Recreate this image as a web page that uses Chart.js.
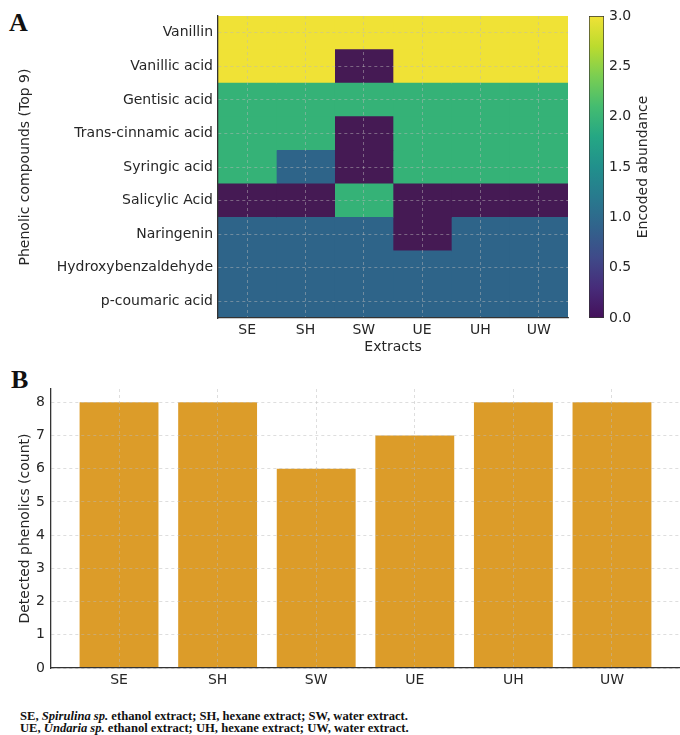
<!DOCTYPE html>
<html>
<head>
<meta charset="utf-8">
<script src="https://cdn.jsdelivr.net/npm/chart.js@4.4.1/dist/chart.umd.min.js"></script>
<style>
  body { margin: 0; background: #fff; width: 680px; height: 735px; position: relative; overflow: hidden; }
  canvas { position: absolute; }
  .panel { position: absolute; font: bold 26px 'Liberation Serif', serif; line-height: 26px; color: #111; }
  .note { position: absolute; left: 20px; top: 710px; font: bold 12.6px 'Liberation Serif', serif; line-height: 12px; color: #111; white-space: nowrap; }
</style>
</head>
<body>
<div class="panel" style="left:9px;top:10px">A</div>
<div class="panel" style="left:11px;top:367px">B</div>
<canvas id="heat" width="580" height="360" style="left:0;top:0"></canvas>
<canvas id="cbar" width="100" height="360" style="left:580px;top:0"></canvas>
<canvas id="bars" width="680" height="340" style="left:0;top:360px"></canvas>
<div class="note">SE, <i>Spirulina sp.</i> ethanol extract; SH, hexane extract; SW, water extract.<br>UE, <i>Undaria sp.</i> ethanol extract; UH, hexane extract; UW, water extract.</div>
<script>
const extracts = ['SE', 'SH', 'SW', 'UE', 'UH', 'UW'];
const compounds = ['Vanillin', 'Vanillic acid', 'Gentisic acid', 'Trans-cinnamic acid', 'Syringic acid',
  'Salicylic Acid', 'Naringenin', 'Hydroxybenzaldehyde', 'p-coumaric acid'];
// encoded abundance, one row per compound, columns in the order of extracts
const abundance = [
  [3, 3, 3, 3, 3, 3],
  [3, 3, 0, 3, 3, 3],
  [2, 2, 2, 2, 2, 2],
  [2, 2, 0, 2, 2, 2],
  [2, 1, 0, 2, 2, 2],
  [0, 0, 2, 0, 0, 0],
  [1, 1, 1, 0, 1, 1],
  [1, 1, 1, 1, 1, 1],
  [1, 1, 1, 1, 1, 1]
];
const colorbarTicks = [0, 0.5, 1, 1.5, 2, 2.5, 3];
const detected = [8, 8, 6, 7, 8, 8];
const countTicks = [0, 1, 2, 3, 4, 5, 6, 7, 8];

// viridis, a bit muted like the picture
const levelColors = ['#451a54', '#2e6489', '#35b277', '#f0e236'];
const viridisStops = ['#44105a', '#472c7a', '#3f4a89', '#31638c', '#287a8e', '#21908c', '#25a784', '#44bc70', '#7ace52', '#bcdb2e', '#f0e236'];

Chart.defaults.font.family = "'DejaVu Sans', sans-serif";
Chart.defaults.font.size = 14;
Chart.defaults.color = '#262626';

// grid on top of the marks, like the matplotlib original; axis line drawn after the grid
const gridStyle = { color: 'rgba(185,185,185,0.6)', lineWidth: 0.8, drawTicks: false, z: 1, offset: false };
const borderStyle = { display: true, color: '#333', width: 1.3, dash: [3, 3], z: 2 };

// ---- panel A: heatmap ----
new Chart(document.getElementById('heat'), {
  type: 'bar',
  data: {
    labels: compounds,
    datasets: extracts.map((ex, c) => ({
      label: ex,
      data: compounds.map(() => [c, c + 1]),
      backgroundColor: compounds.map((_, r) => levelColors[abundance[r][c]]),
      borderWidth: 0
    }))
  },
  options: {
    indexAxis: 'y',
    responsive: false,
    animation: false,
    layout: { padding: { top: 16, right: 12, left: 0, bottom: 0 } },
    plugins: { legend: { display: false }, tooltip: { enabled: false } },
    datasets: { bar: { grouped: false, categoryPercentage: 1, barPercentage: 1 } },
    scales: {
      x: {
        type: 'linear', min: 0, max: extracts.length,
        afterBuildTicks: s => { s.ticks = extracts.map((e, i) => ({ value: i + 0.5 })); },
        afterFit: s => { s.height = 42; },
        ticks: { callback: (v, i) => extracts[i], padding: 4, maxRotation: 0, autoSkip: false },
        grid: gridStyle,
        border: borderStyle,
        title: { display: true, text: 'Extracts', padding: { top: 0, bottom: 4 } }
      },
      y: {
        type: 'category', offset: true,
        afterFit: s => { s.width = 218; },
        ticks: { padding: 5, autoSkip: false },
        grid: gridStyle,
        border: borderStyle,
        title: { display: true, text: 'Phenolic compounds (Top 9)', padding: { top: 17, bottom: 0 } }
      }
    }
  }
});

// ---- colour bar ----
const cbTitle = {
  id: 'cbTitle',
  afterDraw(chart) {
    const ctx = chart.ctx, a = chart.chartArea;
    ctx.save();
    ctx.translate(63, (a.top + a.bottom) / 2);
    ctx.rotate(-Math.PI / 2);
    ctx.font = "14px 'DejaVu Sans'";
    ctx.fillStyle = '#262626';
    ctx.textAlign = 'center';
    ctx.textBaseline = 'middle';
    ctx.fillText('Encoded abundance', 0, 0);
    ctx.restore();
  }
};
new Chart(document.getElementById('cbar'), {
  type: 'bar',
  data: {
    labels: ['abundance'],
    datasets: [{
      data: [[colorbarTicks[0], colorbarTicks[colorbarTicks.length - 1]]],
      backgroundColor: ctx => {
        const a = ctx.chart.chartArea;
        if (!a) return '#888';
        const g = ctx.chart.ctx.createLinearGradient(0, a.bottom, 0, a.top);
        viridisStops.forEach((c, i) => g.addColorStop(i / (viridisStops.length - 1), c));
        return g;
      },
      borderColor: '#333',
      borderWidth: 1,
      borderSkipped: false,
      categoryPercentage: 1,
      barPercentage: 1
    }]
  },
  options: {
    responsive: false,
    animation: false,
    layout: { padding: { top: 16, right: 0, left: 9, bottom: 42 } },
    plugins: { legend: { display: false }, tooltip: { enabled: false } },
    scales: {
      x: { display: false },
      y: {
        position: 'right', min: 0, max: 3,
        afterBuildTicks: s => { s.ticks = colorbarTicks.map(v => ({ value: v })); },
        afterFit: s => { s.width = 76; },
        ticks: { callback: v => v.toFixed(1), padding: 5 },
        grid: { display: false, drawTicks: false },
        border: { display: false }
      }
    }
  },
  plugins: [cbTitle]
});

// ---- panel B: bar chart ----
new Chart(document.getElementById('bars'), {
  type: 'bar',
  data: {
    datasets: [{
      data: detected.map((v, i) => ({ x: i, y: v })),
      backgroundColor: '#dc9c29',
      borderWidth: 0,
      categoryPercentage: 1,
      barPercentage: 0.8
    }]
  },
  options: {
    responsive: false,
    animation: false,
    layout: { padding: { top: 29, right: 0, left: 0, bottom: 0 } },
    plugins: { legend: { display: false }, tooltip: { enabled: false } },
    scales: {
      x: {
        type: 'linear', offset: false, min: -0.69, max: extracts.length - 0.31,
        afterBuildTicks: s => { s.ticks = extracts.map((e, i) => ({ value: i })); },
        afterFit: s => { s.height = 32; },
        ticks: { callback: (v, i) => extracts[i], padding: 4, maxRotation: 0, autoSkip: false },
        grid: gridStyle,
        border: borderStyle
      },
      y: {
        min: 0, max: 8.4,
        afterBuildTicks: s => { s.ticks = countTicks.map(v => ({ value: v })); },
        afterFit: s => { s.width = 51; },
        ticks: { padding: 6 },
        grid: gridStyle,
        border: borderStyle,
        title: { display: true, text: 'Detected phenolics (count)', padding: { top: 17, bottom: 0 } }
      }
    }
  }
});
</script>
</body>
</html>
